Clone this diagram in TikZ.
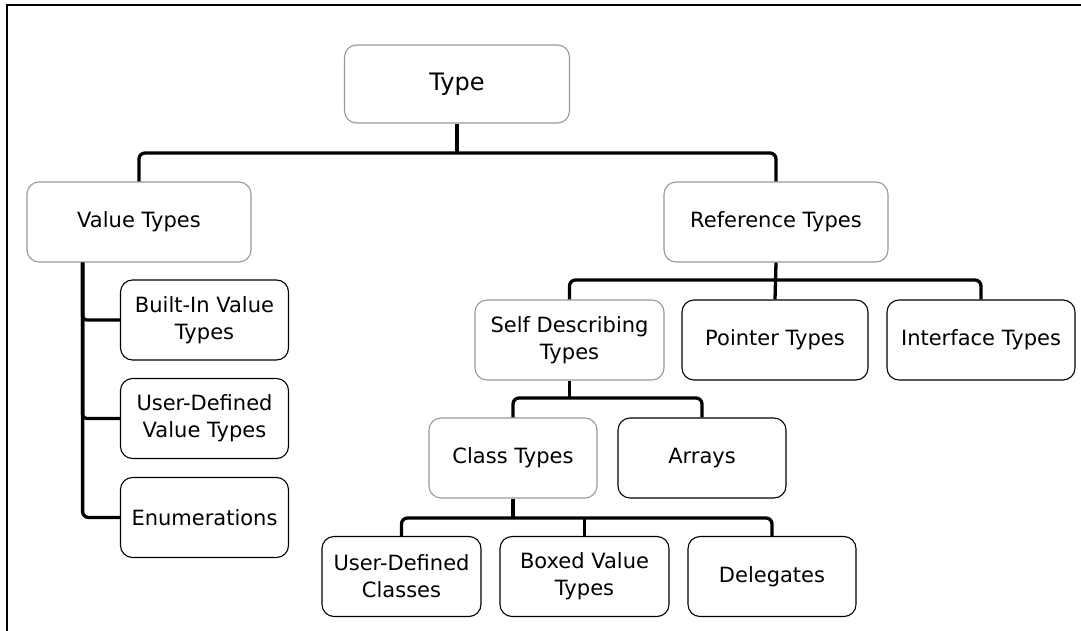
\documentclass[tikz,border=0pt]{standalone}
\usepackage{fontspec}
\setmainfont{DejaVu Sans}
\begin{document}
\begin{tikzpicture}[x=1pt,y=-1pt,
  box/.style={draw=black,line width=1.1pt,rounded corners=12pt,rectangle,inner sep=0pt,
    align=center,minimum height=80pt,font=\fontsize{21}{27}\selectfont},
  gbox/.style={box,draw=black!40},
  conn/.style={draw=black,line width=3.3pt,rounded corners=6pt},
  frame/.style={draw=black,line width=1.6pt}]
\useasboundingbox (0,0) rectangle (1081,631);
\fill[white] (0,0) rectangle (1081,631);
\draw[frame] (1081,5) -- (7,5) -- (7,631);

% nodes
\node[gbox,minimum width=225pt,minimum height=78pt,font=\fontsize{24}{28}\selectfont] (type) at (457,84) {Type};
\node[gbox,minimum width=224pt] (vt) at (139,222) {Value Types};
\node[gbox,minimum width=224pt] (rt) at (776,222) {Reference Types};

\node[box,minimum width=168pt] (bi) at (204.5,320) {Built-In Value\\Types};
\node[box,minimum width=168pt] (udvt) at (204.5,418.5) {User-Defined\\Value Types};
\node[box,minimum width=168pt] (en) at (204.5,517.5) {Enumerations};

\node[gbox,minimum width=189pt] (sd) at (569.5,340) {Self Describing\\Types};
\node[box,minimum width=186pt] (pt) at (775,340) {Pointer Types};
\node[box,minimum width=188pt] (it) at (981,340) {Interface Types};

\node[gbox,minimum width=168pt] (ct) at (513,458) {Class Types};
\node[box,minimum width=168pt] (ar) at (702,458) {Arrays};

\node[box,minimum width=159pt] (udc) at (401.5,576.5) {User-Defined\\Classes};
\node[box,minimum width=169pt] (bvt) at (584.5,576.5) {Boxed Value\\Types};
\node[box,minimum width=168pt] (del) at (772,576.5) {Delegates};

% junction coordinates
\coordinate (tb) at (type.south |- 0,153);
\coordinate (vl) at (82.6,0 |- vt.south);
\coordinate (rb) at (rt.south |- 0,280);
\coordinate (sb) at (sd.south |- 0,398);
\coordinate (cb) at (ct.south |- 0,518);

% connectors
\draw[conn] (type.south) -- (tb);
\draw[conn] (vt.north) |- (tb) -| (rt.north);

\draw[conn,rounded corners=4pt] (vl) |- (bi.west);
\draw[conn,rounded corners=4pt] (vl) |- (udvt.west);
\draw[conn,rounded corners=6pt] (vl) |- (en.west);

\draw[conn] (rt.south) -- (pt.north);
\draw[conn] (sd.north) |- (rb) -| (it.north);

\draw[conn] (sd.south) -- (sb);
\draw[conn] (ct.north) |- (sb) -| (ar.north);

\draw[conn] (ct.south) -- (cb);
\draw[conn] (udc.north) |- (cb) -| (del.north);
\draw[conn] (cb -| bvt.north) -- (bvt.north);
\end{tikzpicture}
\end{document}
